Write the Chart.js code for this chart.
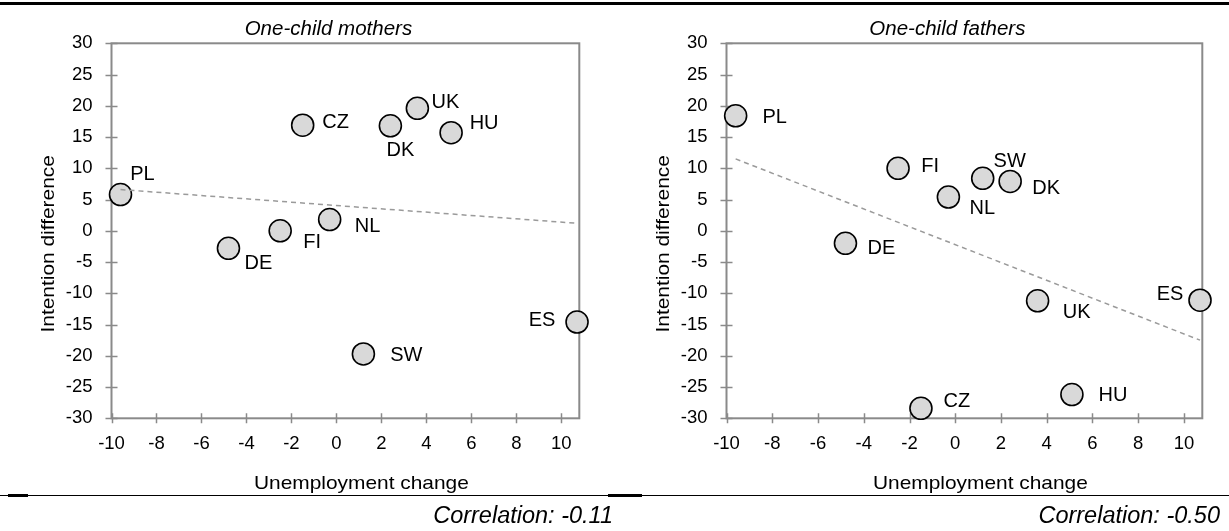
<!DOCTYPE html>
<html><head><meta charset="utf-8">
<script src="https://cdn.jsdelivr.net/npm/chart.js@4.4.1/dist/chart.umd.min.js"></script>
<style>
body{margin:0;background:#fff;width:1229px;height:531px;overflow:hidden;position:relative;font-family:"Liberation Sans",Arial,sans-serif}
canvas{position:absolute;top:0}
#c1{left:0}
#c2{left:615px}
.rule{position:absolute;background:#000}
.corr{position:absolute;top:504px;font-style:italic;font-size:23.5px;line-height:23.5px;white-space:nowrap;text-align:right;color:#000}
</style></head><body>
<div class="rule" style="left:0;top:2px;width:1229px;height:3px"></div>
<div class="rule" style="left:0;top:495.2px;width:1229px;height:1.3px"></div>
<div class="rule" style="left:8px;top:494.3px;width:20px;height:2.6px"></div>
<div class="rule" style="left:608px;top:494.3px;width:34px;height:2.6px"></div>
<canvas id="c1" width="615" height="531"></canvas>
<canvas id="c2" width="614" height="531"></canvas>
<div class="corr" style="right:616px">Correlation: -0.11</div>
<div class="corr" style="right:9px">Correlation: -0.50</div>
<script>
// ---- data ----
const countries = ['PL','CZ','DK','UK','HU','NL','FI','DE','ES','SW'];
const unemploymentChange = [-9.6, -1.5, 2.4, 3.6, 5.1, -0.3, -2.5, -4.8, 10.7, 1.2];
const mothersDiff = [5.8, 16.9, 16.8, 19.6, 15.7, 1.8, 0.0, -2.8, -14.6, -19.7];
const fathersDiff = [18.4, -28.4, 7.9, -11.2, -26.2, 5.4, 10.0, -2.0, -11.1, 8.4];
const trendX = [-9.6, 10.7];
const mothersTrend = [6.6, 1.2];
const fathersTrend = [11.5, -17.5];
const xTickValues = [-10, -8, -6, -4, -2, 0, 2, 4, 6, 8, 10];
const yTickValues = [-30, -25, -20, -15, -10, -5, 0, 5, 10, 15, 20, 25, 30];
const chartTitles = ['One-child mothers', 'One-child fathers'];
const xTitle = 'Unemployment change';
const yTitle = 'Intention difference';

// ---- label placement (pixels, styling only) ----
const mothersLabelOffsets = {PL:[22,-20], CZ:[33,-3], DK:[10,25], UK:[28,-5.5], HU:[33,-9], NL:[38,7], FI:[32,12], DE:[30,15], ES:[-35,-2], SW:[43,2]};
const fathersLabelOffsets = {PL:[39,2], FI:[32,-2], SW:[27,-17], DK:[36,7], NL:[34,11], DE:[36,5], UK:[39,12], ES:[-30,-6], HU:[41,1], CZ:[36,-7]};

const FONT = '"Liberation Sans", Arial, sans-serif';
const FRAME = '#8a8a8a';
const AXIS_TITLE_SIZE = 19;
const AXIS_TITLE_STRETCH = 1.1;

const deco = {
  id: 'deco',
  beforeDatasetsDraw(chart, args, o) {
    const ctx = chart.ctx, a = chart.chartArea;
    const xs = chart.scales.x, ys = chart.scales.y;
    ctx.save();
    ctx.strokeStyle = FRAME;
    ctx.lineWidth = 2;
    ctx.strokeRect(a.left, a.top, a.right - a.left, a.bottom - a.top);
    ctx.lineWidth = 1.5;
    ctx.beginPath();
    yTickValues.forEach(v => {
      const p = Math.round(ys.getPixelForValue(v)) + 0.5;
      ctx.moveTo(a.left - 6, p); ctx.lineTo(a.left + 6, p);
    });
    xTickValues.forEach(v => {
      const p = Math.round(xs.getPixelForValue(v)) + 0.5;
      ctx.moveTo(p, a.bottom - 5); ctx.lineTo(p, a.bottom + 5);
    });
    ctx.stroke();
    ctx.restore();
  },
  afterDatasetsDraw(chart, args, o) {
    const ctx = chart.ctx;
    const meta = chart.getDatasetMeta(1);
    ctx.save();
    ctx.fillStyle = '#000';
    ctx.font = '20px ' + FONT;
    ctx.textAlign = 'center';
    ctx.textBaseline = 'middle';
    meta.data.forEach((pt, i) => {
      const c = countries[i];
      const off = o.offsets[c] || [30, 0];
      ctx.fillText(c, pt.x + off[0], pt.y + off[1]);
    });
    ctx.restore();
  },
  afterDraw(chart, args, o) {
    const ctx = chart.ctx, a = chart.chartArea;
    const cx = (a.left + a.right) / 2, cy = (a.top + a.bottom) / 2;
    ctx.save();
    ctx.fillStyle = '#000';
    ctx.textAlign = 'center';
    ctx.textBaseline = 'alphabetic';
    ctx.font = 'italic 20.5px ' + FONT;
    ctx.fillText(o.title, cx - 17, 34.7);
    ctx.font = AXIS_TITLE_SIZE + 'px ' + FONT;
    ctx.save();
    ctx.translate(cx + 16, 489);
    ctx.scale(AXIS_TITLE_STRETCH, 1);
    ctx.fillText(xTitle, 0, 0);
    ctx.restore();
    ctx.translate(53.5, cy + 13);
    ctx.rotate(-Math.PI / 2);
    ctx.scale(AXIS_TITLE_STRETCH, 1);
    ctx.fillText(yTitle, 0, 0);
    ctx.restore();
  }
};

function makeChart(id, diff, trend, title, offsets, padRight) {
  const pts = unemploymentChange.map((x, i) => ({x: x, y: diff[i]}));
  const tr = trendX.map((x, i) => ({x: x, y: trend[i]}));
  return new Chart(document.getElementById(id), {
    type: 'scatter',
    data: {
      datasets: [
        {type: 'line', data: tr, borderColor: '#9a9a9a', borderWidth: 1.5, borderDash: [5, 4],
         pointRadius: 0, fill: false, order: 0, clip: false},
        {data: pts, pointRadius: 11, pointHoverRadius: 11, backgroundColor: '#d9d9d9',
         borderColor: '#000', borderWidth: 1.6, order: 1, clip: false}
      ]
    },
    options: {
      responsive: false,
      animation: false,
      devicePixelRatio: 1,
      layout: {padding: {left: 0, right: padRight, top: 43.3, bottom: 0}},
      plugins: {
        legend: {display: false},
        tooltip: {enabled: false},
        title: {display: false},
        deco: {title: title, offsets: offsets}
      },
      scales: {
        x: {
          type: 'linear', min: -10, max: 10.8,
          afterFit: s => { s.height = 531 - 418.3; },
          afterBuildTicks: s => { s.ticks = xTickValues.map(v => ({value: v})); },
          grid: {display: false, drawTicks: false},
          border: {display: false},
          ticks: {padding: 15, color: '#000', font: {family: FONT, size: 18.5}, maxRotation: 0}
        },
        y: {
          type: 'linear', min: -30, max: 30,
          afterFit: s => { s.width = 111.5; },
          afterBuildTicks: s => { s.ticks = yTickValues.map(v => ({value: v})); },
          grid: {display: false, drawTicks: false},
          border: {display: false},
          ticks: {padding: 19, color: '#000', font: {family: FONT, size: 18.5}}
        }
      }
    },
    plugins: [deco]
  });
}

makeChart('c1', mothersDiff, mothersTrend, chartTitles[0], mothersLabelOffsets, 35.7);
makeChart('c2', fathersDiff, fathersTrend, chartTitles[1], fathersLabelOffsets, 26.7);
</script>
</body></html>
